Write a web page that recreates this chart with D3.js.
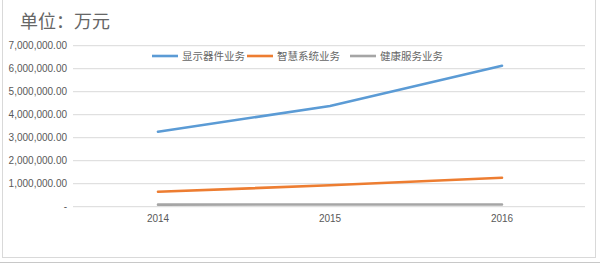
<!DOCTYPE html>
<html>
<head>
<meta charset="utf-8">
<script src="https://cdn.jsdelivr.net/npm/d3@7"></script>
<style>
  body { margin: 0; background: #fff; }
  svg { display: block; font-family: "Noto Sans CJK SC", "Liberation Sans", sans-serif; }
</style>
</head>
<body>
<div class="chart"></div>
<script>
const width = 600;
const height = 266;

// data
const years = ["2014", "2015", "2016"];
const seriesNames = ["显示器件业务", "智慧系统业务", "健康服务业务"];
const displayValues = [3260000, 4380000, 6130000];
const smartValues = [650000, 930000, 1260000];
const healthValues = [90000, 95000, 95000];
const yTicks = [0, 1000000, 2000000, 3000000, 4000000, 5000000, 6000000, 7000000];
const colors = ["#5B9BD5", "#ED7D31", "#A5A5A5"];

const series = [displayValues, smartValues, healthValues];

const svg = d3.select(".chart")
    .append("svg")
    .attr("width", width)
    .attr("height", height);

// outer frame
svg.append("rect")
    .attr("x", 2.5).attr("y", -2)
    .attr("width", 593).attr("height", 259.5)
    .attr("fill", "none")
    .attr("stroke", "#d9d9d9");
svg.append("line")
    .attr("x1", 0).attr("x2", width)
    .attr("y1", 262.5).attr("y2", 262.5)
    .attr("stroke", "#c8c8c8");

// title
svg.append("text")
    .attr("x", 20).attr("y", 28)
    .attr("font-size", 18)
    .attr("fill", "#666")
    .text("单位：万元");

const x = d3.scaleBand().domain(years).range([72, 588]);
const y = d3.scaleLinear().domain([0, 7000000]).range([206.7, 45.7]);

// gridlines
svg.append("g")
    .selectAll("line")
    .data(yTicks)
    .join("line")
    .attr("x1", 73).attr("x2", 585)
    .attr("y1", d => y(d)).attr("y2", d => y(d))
    .attr("stroke", "#d9d9d9")
    .attr("stroke-width", 1);

// y axis labels
const fmt = d3.format(",.2f");
const yAxis = svg.append("g")
    .attr("transform", "translate(67,0)")
    .call(d3.axisLeft(y).tickValues(yTicks).tickSize(0).tickPadding(0)
        .tickFormat(d => d === 0 ? "-" : fmt(d)));
yAxis.select(".domain").remove();
yAxis.selectAll("text")
    .attr("font-size", 10)
    .attr("font-family", "Liberation Sans, sans-serif")
    .attr("fill", "#595959");

// x axis labels
const xAxis = svg.append("g")
    .attr("transform", "translate(0,215)")
    .call(d3.axisBottom(x).tickSize(0).tickPadding(0));
xAxis.select(".domain").remove();
xAxis.selectAll("text")
    .attr("font-size", 10)
    .attr("font-family", "Liberation Sans, sans-serif")
    .attr("fill", "#595959");

// lines
const line = d3.line()
    .x((d, i) => x(years[i]) + x.bandwidth() / 2)
    .y(d => y(d));

svg.append("g")
    .selectAll("path")
    .data(series)
    .join("path")
    .attr("d", line)
    .attr("fill", "none")
    .attr("stroke", (d, i) => colors[i])
    .attr("stroke-width", 2.6)
    .attr("stroke-linecap", "round");

// legend
const legendX = [152, 247, 350];
const legend = svg.append("g")
    .selectAll("g")
    .data(seriesNames)
    .join("g")
    .attr("transform", (d, i) => `translate(${legendX[i]},56)`);
legend.append("line")
    .attr("x1", 0).attr("x2", 26)
    .attr("stroke", (d, i) => colors[i])
    .attr("stroke-width", 2.6);
legend.append("text")
    .attr("x", 30).attr("y", 4)
    .attr("font-size", 10.5)
    .attr("fill", "#666")
    .text(d => d);
</script>
</body>
</html>
